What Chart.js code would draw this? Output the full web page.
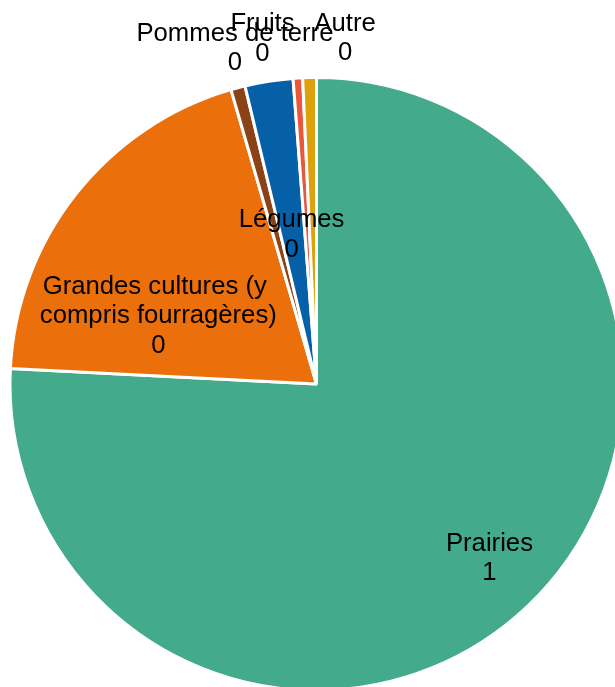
<!DOCTYPE html>
<html>
<head>
<meta charset="utf-8">
<script src="https://cdn.jsdelivr.net/npm/chart.js@4.4.1/dist/chart.umd.min.js"></script>
<style>
  html, body { margin: 0; padding: 0; background: #ffffff; overflow: hidden; width: 615px; height: 687px; }
  canvas { display: block; }
</style>
</head>
<body>
<canvas id="c" width="640" height="720"></canvas>
<script>
// ---- data ----
const categories = ["Prairies", "Grandes cultures (y compris fourragères)", "Pommes de terre", "Légumes", "Fruits", "Autre"];
const labelLines = [["Prairies"], ["Grandes cultures (y ", "compris fourragères)"], ["Pommes de terre"], ["Légumes"], ["Fruits"], ["Autre"]];
const shares = [0.758, 0.197, 0.0075, 0.0253, 0.005, 0.0072];
const colors = ["#43AA8B", "#EB6F0A", "#8B4218", "#0560A8", "#E9573D", "#DCA10B"];

// label anchors: angle (deg, clockwise from top) and radius ratio
const labelAnchors = [
  { a: 135.0, r: 0.802 },
  { a: 293.6, r: 0.566 },
  { a: 346.4, r: 1.137 },
  { a: 350.6, r: 0.500 },
  { a: 351.15, r: 1.151 },
  { a: 4.7, r: 1.142 }
];

const labelPlugin = {
  id: 'sliceLabels',
  afterDatasetsDraw(chart) {
    const ctx = chart.ctx;
    const meta = chart.getDatasetMeta(0);
    const ds = chart.data.datasets[0];
    ctx.save();
    ctx.font = '25.7px "Liberation Sans", Arial, sans-serif';
    ctx.fillStyle = '#000000';
    ctx.textAlign = 'center';
    ctx.textBaseline = 'middle';
    const lh = 29.8;
    meta.data.forEach((arc, i) => {
      const R = arc.outerRadius - 1.5;
      const an = labelAnchors[i];
      const rad = an.a * Math.PI / 180;
      const cx = arc.x + an.r * R * Math.sin(rad);
      const cy = arc.y - an.r * R * Math.cos(rad) + 1.5;
      const lines = labelLines[i].concat([String(Math.round(ds.data[i]))]);
      const top = cy - (lines.length - 1) * lh / 2;
      lines.forEach((t, k) => ctx.fillText(t, cx, top + k * lh));
    });
    ctx.restore();
  }
};

new Chart(document.getElementById('c'), {
  type: 'pie',
  data: {
    labels: categories,
    datasets: [{
      data: shares,
      backgroundColor: colors,
      borderColor: '#ffffff',
      borderWidth: 3
    }]
  },
  options: {
    responsive: false,
    devicePixelRatio: 1,
    animation: false,
    layout: { padding: { left: 8.5, top: 76, right: 15.5, bottom: 28 } },
    plugins: { legend: { display: false }, tooltip: { enabled: false } }
  },
  plugins: [labelPlugin]
});
</script>
</body>
</html>
